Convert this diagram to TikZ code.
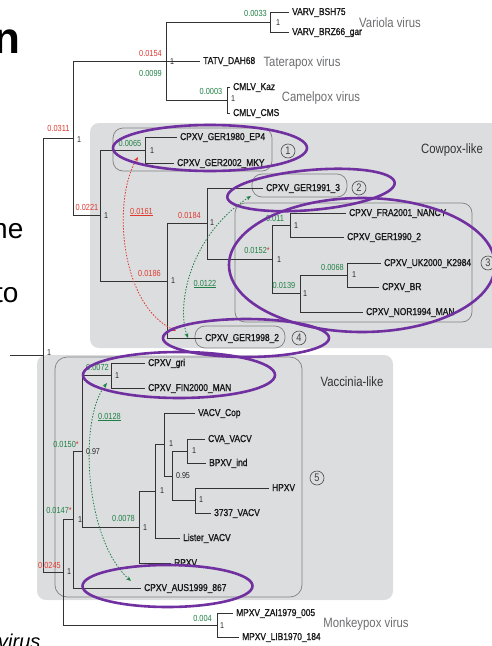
\documentclass[tikz,border=0pt]{standalone}
\usepackage{fontspec}
\usepackage{xcolor}
\usepackage{tikz}
\usetikzlibrary{arrows.meta, positioning}

\setmainfont{Liberation Sans}
\newfontfamily\treefont[FakeStretch=0.84]{Liberation Sans}
\newfontfamily\leaffont[FakeStretch=0.84, FakeBold=1.2]{Liberation Sans}

\definecolor{lenred}{RGB}{222,58,48}
\definecolor{lengreen}{RGB}{30,128,68}
\definecolor{ringpurple}{RGB}{112,48,160}
\definecolor{panelgray}{RGB}{220,221,223}
\definecolor{groupgray}{RGB}{108,109,112}

\begin{document}
\begin{tikzpicture}[x=1pt, y=-1pt,
    branch/.style={draw=black!80, line width=0.7pt},
    leaf/.style={anchor=west, inner xsep=3pt, inner ysep=0pt, text height=7pt, text depth=1pt, font=\leaffont\fontsize{10}{10}\selectfont, text=black!90},
    supp/.style={inner sep=0.5pt, font=\treefont\fontsize{8.5}{8.5}\selectfont, text=black!85},
    blen/.style={inner sep=0.5pt, font=\treefont\fontsize{8.8}{8.8}\selectfont},
    group/.style={font=\treefont\fontsize{13.5}{13.5}\selectfont, text=groupgray},
    cladebox/.style={draw=black!50, line width=0.7pt, rounded corners=10pt},
    panel/.style={fill=panelgray, rounded corners=9pt},
    ring/.style={draw=ringpurple, line width=2.6pt},
    cnum/.style={circle, draw=black!70, line width=0.6pt, minimum size=14pt, inner sep=0pt, font=\treefont\fontsize{11}{11}\selectfont, text=black!75},
    swap/.style={dash pattern=on 1.5pt off 1.5pt, line width=0.8pt, {Stealth[length=5pt,width=4pt]}-{Stealth[length=5pt,width=4pt]}}
]
    \useasboundingbox (0,0) rectangle (492,646);

    \node[anchor=base west, inner sep=0pt, font=\bfseries\fontsize{44}{44}\selectfont] (frag1) at (-7,53) {n};
    \node[anchor=base west, inner sep=0pt, font=\fontsize{28}{28}\selectfont] (frag2) at (-8,238) {ne};
    \node[anchor=base west, inner sep=0pt, font=\fontsize{28}{28}\selectfont] (frag3) at (-5,302) {to};
    \node[anchor=base west, inner sep=0pt, font=\itshape\fontsize{20}{20}\selectfont] (frag4) at (-2,648) {virus};

    \fill[panel] (90,123) rectangle (510,348);
    \fill[panel] (37,355) rectangle (393,600);

    \draw[cladebox] (113,128) rectangle (272,171);
    \draw[cladebox] (252,174) rectangle (347,197);
    \draw[cladebox] (235,203) rectangle (472,322);
    \draw[cladebox] (195,326) rectangle (285,348);
    \draw[cladebox, rounded corners=12pt] (55,357) rectangle (302,597);

    \coordinate (stem) at (10,355);
    \coordinate (root) at (43,355);
    \coordinate (A) at (73,138);
    \coordinate (B) at (166,61);
    \coordinate (varv) at (270,22);
    \coordinate (cmlv) at (227,100);
    \coordinate (C) at (100,215);
    \coordinate (c1) at (145,150);
    \coordinate (D) at (167,281);
    \coordinate (E) at (207,223);
    \coordinate (F) at (272,259);
    \coordinate (G) at (290,225);
    \coordinate (H) at (300,293);
    \coordinate (I) at (347,275);
    \coordinate (K) at (63,572);
    \coordinate (L) at (73,519);
    \coordinate (M) at (82,451);
    \coordinate (c5) at (111,375);
    \coordinate (N) at (139,527);
    \coordinate (O) at (155,491);
    \coordinate (P) at (164,444);
    \coordinate (Q) at (172,476);
    \coordinate (R) at (187,451);
    \coordinate (S) at (195,500);
    \coordinate (mpxv) at (217,625);

    \node[leaf] (bsh75) at (289,12) {VARV\_BSH75};
    \node[leaf] (brz66) at (289,32) {VARV\_BRZ66\_gar};
    \node[leaf] (tatv) at (200,61) {TATV\_DAH68};
    \node[leaf] (kaz) at (230,87) {CMLV\_Kaz};
    \node[leaf] (cms) at (230,113) {CMLV\_CMS};
    \node[leaf] (ep4) at (177,137) {CPXV\_GER1980\_EP4};
    \node[leaf] (mky) at (174,163) {CPXV\_GER2002\_MKY};
    \node[leaf] (ger91) at (263,188) {CPXV\_GER1991\_3};
    \node[leaf] (nancy) at (346,213) {CPXV\_FRA2001\_NANCY};
    \node[leaf] (ger90) at (344,237) {CPXV\_GER1990\_2};
    \node[leaf] (k2984) at (381,263) {CPXV\_UK2000\_K2984};
    \node[leaf] (br) at (379,287) {CPXV\_BR};
    \node[leaf] (nor94) at (363,312) {CPXV\_NOR1994\_MAN};
    \node[leaf] (ger98) at (202,338) {CPXV\_GER1998\_2};
    \node[leaf] (gri) at (145,363) {CPXV\_gri};
    \node[leaf] (fin00) at (145,388) {CPXV\_FIN2000\_MAN};
    \node[leaf] (cop) at (195,413) {VACV\_Cop};
    \node[leaf] (cva) at (205,439) {CVA\_VACV};
    \node[leaf] (bpxv) at (206,463) {BPXV\_ind};
    \node[leaf] (hpxv) at (269,488) {HPXV};
    \node[leaf] (v3737) at (211,513) {3737\_VACV};
    \node[leaf] (lister) at (180,538) {Lister\_VACV};
    \node[leaf] (rpxv) at (171,563) {RPXV};
    \node[leaf] (aus99) at (141,588) {CPXV\_AUS1999\_867};
    \node[leaf] (zai79) at (233,613) {MPXV\_ZAI1979\_005};
    \node[leaf] (lib70) at (239,637) {MPXV\_LIB1970\_184};

    \draw[branch] (stem) -- (root);
    \draw[branch] (root) |- (A);
    \draw[branch] (root) |- (K);
    \draw[branch] (A) |- (B);
    \draw[branch] (A) |- (C);
    \draw[branch] (B) |- (varv);
    \draw[branch] (B) |- (tatv.west);
    \draw[branch] (B) |- (cmlv);
    \draw[branch] (varv) |- (bsh75.west);
    \draw[branch] (varv) |- (brz66.west);
    \draw[branch] (cmlv) |- (kaz.west);
    \draw[branch] (cmlv) |- (cms.west);
    \draw[branch] (C) |- (c1);
    \draw[branch] (C) |- (D);
    \draw[branch] (c1) |- (ep4.west);
    \draw[branch] (c1) |- (mky.west);
    \draw[branch] (D) |- (E);
    \draw[branch] (D) |- (ger98.west);
    \draw[branch] (E) |- (ger91.west);
    \draw[branch] (E) |- (F);
    \draw[branch] (F) |- (G);
    \draw[branch] (F) |- (H);
    \draw[branch] (G) |- (nancy.west);
    \draw[branch] (G) |- (ger90.west);
    \draw[branch] (H) |- (I);
    \draw[branch] (H) |- (nor94.west);
    \draw[branch] (I) |- (k2984.west);
    \draw[branch] (I) |- (br.west);
    \draw[branch] (K) |- (L);
    \draw[branch] (K) |- (mpxv);
    \draw[branch] (L) |- (M);
    \draw[branch] (L) |- (aus99.west);
    \draw[branch] (M) |- (c5);
    \draw[branch] (M) |- (N);
    \draw[branch] (c5) |- (gri.west);
    \draw[branch] (c5) |- (fin00.west);
    \draw[branch] (N) |- (O);
    \draw[branch] (N) |- (rpxv.west);
    \draw[branch] (O) |- (P);
    \draw[branch] (O) |- (lister.west);
    \draw[branch] (P) |- (cop.west);
    \draw[branch] (P) |- (Q);
    \draw[branch] (Q) |- (R);
    \draw[branch] (Q) |- (S);
    \draw[branch] (R) |- (cva.west);
    \draw[branch] (R) |- (bpxv.west);
    \draw[branch] (S) |- (hpxv.west);
    \draw[branch] (S) |- (v3737.west);
    \draw[branch] (mpxv) |- (zai79.west);
    \draw[branch] (mpxv) |- (lib70.west);

    \node[supp] (sroot) at (49,353) {1};
    \node[supp] (sA) at (79,140) {1};
    \node[supp] (sB) at (172,62) {1};
    \node[supp] (svarv) at (278,23) {1};
    \node[supp] (scmlv) at (233,99) {1};
    \node[supp] (sc1) at (152,151) {1};
    \node[supp] (sC) at (106,216) {1};
    \node[supp] (sD) at (173,281) {1};
    \node[supp] (sE) at (212,223) {1};
    \node[supp] (sF) at (279,260) {1};
    \node[supp] (sG) at (296,226) {1};
    \node[supp] (sH) at (305,294) {1};
    \node[supp] (sI) at (354,275) {1};
    \node[supp] (sK) at (69,572) {1};
    \node[supp] (sL) at (80,520) {1};
    \node[supp] (sM) at (93,452) {0.97};
    \node[supp] (sc5) at (117,376) {1};
    \node[supp] (sN) at (145,528) {1};
    \node[supp] (sO) at (162,491) {1};
    \node[supp] (sP) at (171,444) {1};
    \node[supp] (sQ) at (183,476) {0.95};
    \node[supp] (sR) at (194,451) {1};
    \node[supp] (sS) at (201,500) {1};
    \node[supp] (smpxv) at (222,626) {1};

    \node[blen, text=lenred] (l0311) at (58.5,128) {0.0311};
    \node[blen, text=lenred] (l0154) at (150.5,53) {0.0154};
    \node[blen, text=lengreen] (l0099) at (150.5,73) {0.0099};
    \node[blen, text=lengreen] (l0033) at (255.5,13) {0.0033};
    \node[blen, text=lengreen] (l0003) at (211,91) {0.0003};
    \node[blen, text=lengreen] (l0065) at (130,143) {0.0065};
    \node[blen, text=lenred] (l0221) at (87,207) {0.0221};
    \node[blen, text=lenred] (l0184) at (189.5,215) {0.0184};
    \node[blen, text=lenred] (l0186) at (149.5,273) {0.0186};
    \node[blen, text=lengreen] (l011) at (275,218) {0.011};
    \node[blen, text=lengreen] (l0152) at (257,250) {0.0152\textcolor{lenred}{*}};
    \node[blen, text=lengreen] (l0068) at (332.5,267) {0.0068};
    \node[blen, text=lengreen] (l0139) at (284,285) {0.0139};
    \node[blen, text=lengreen] (l0072) at (97.5,367) {0.0072};
    \node[blen, text=lengreen] (l0150) at (66,444) {0.0150\textcolor{lenred}{*}};
    \node[blen, text=lengreen] (l0078) at (123.5,518) {0.0078};
    \node[blen, text=lengreen] (l0147) at (59,510) {0.0147\textcolor{lenred}{*}};
    \node[blen, text=lenred] (l0245) at (49.5,565) {0.0245};
    \node[blen, text=lengreen] (l004) at (202.5,618) {0.004};
    \node[blen, text=lenred] (l0161) at (141.5,212) {\underline{0.0161}};
    \node[blen, text=lengreen] (l0122) at (205,284) {\underline{0.0122}};
    \node[blen, text=lengreen] (l0128) at (109.5,417) {\underline{0.0128}};

    \node[group] (variola) at (390,23) {Variola virus};
    \node[group] (taterapox) at (302,63) {Taterapox virus};
    \node[group] (camelpox) at (321,98) {Camelpox virus};
    \node[group, text=black!80] (cowpox) at (452,150) {Cowpox-like};
    \node[group, text=black!80] (vaccinia) at (352,382) {Vaccinia-like};
    \node[group] (monkeypox) at (366,624) {Monkeypox virus};

    \node[cnum] (k1) at (288,151) {1};
    \node[cnum] (k2) at (359,188) {2};
    \node[cnum] (k3) at (488,263) {3};
    \node[cnum] (k4) at (299,338) {4};
    \node[cnum] (k5) at (317,478) {5};

    \coordinate (rtop) at (138,157);
    \coordinate (rbot) at (176,331);
    \coordinate (g1top) at (251,196);
    \coordinate (g1bot) at (188,338);
    \coordinate (g2top) at (107,383);
    \coordinate (g2bot) at (131,581);
    \draw[swap, lenred] (rbot) .. controls (120,305) and (112,200) .. (rtop);
    \draw[swap, lengreen] (g1bot) .. controls (176,305) and (190,235) .. (g1top);
    \draw[swap, lengreen] (g2bot) .. controls (85,540) and (78,420) .. (g2top);

    \draw[ring] (210,148) ellipse (97pt and 23pt);
    \draw[ring, rotate around={5:(311,190)}] (311,190) ellipse (84pt and 20pt);
    \draw[ring] (362,265) ellipse (133pt and 67pt);
    \draw[ring] (246,338) ellipse (83pt and 19pt);
    \draw[ring] (179,375) ellipse (96pt and 23pt);
    \draw[ring] (167.5,586) ellipse (85pt and 21pt);

\end{tikzpicture}
\end{document}
